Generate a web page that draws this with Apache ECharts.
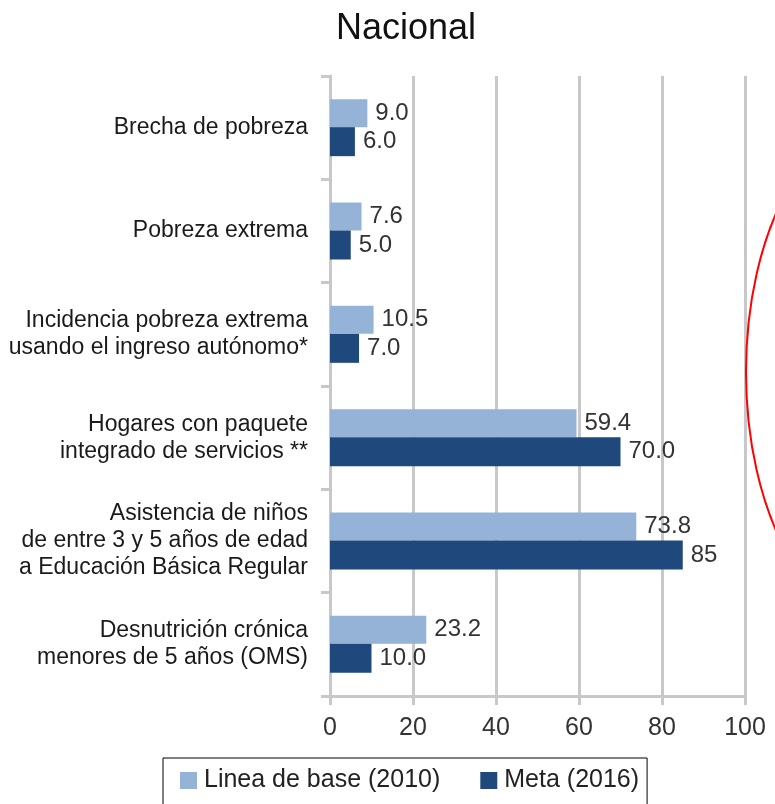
<!DOCTYPE html>
<html>
<head>
<meta charset="utf-8">
<script src="https://cdn.jsdelivr.net/npm/echarts@6/dist/echarts.min.js"></script>
<style>
  html, body { margin: 0; padding: 0; background: #fff; }
  #main { width: 775px; height: 804px; }
</style>
</head>
<body>
<div id="main"></div>
<script>
const categories = [
  "Brecha de pobreza",
  "Pobreza extrema",
  "Incidencia pobreza extrema\nusando el ingreso autónomo*",
  "Hogares con paquete\nintegrado de servicios **",
  "Asistencia de niños\nde entre 3 y 5 años de edad\na Educación Básica Regular",
  "Desnutrición crónica\nmenores de 5 años (OMS)"
];
const baseValues = [9.0, 7.6, 10.5, 59.4, 73.8, 23.2];
const baseLabels = ["9.0", "7.6", "10.5", "59.4", "73.8", "23.2"];
const metaValues = [6.0, 5.0, 7.0, 70.0, 85, 10.0];
const metaLabels = ["6.0", "5.0", "7.0", "70.0", "85", "10.0"];
const xTicks = [0, 20, 40, 60, 80, 100];

const font = "'Liberation Sans', Arial, sans-serif";
const gridGray = "#c8c8c8";

const myChart = echarts.init(document.getElementById("main"));

const option = {
  backgroundColor: "#fff",
  textStyle: { fontFamily: font },
  title: {
    text: "Nacional",
    left: 331,
    top: 6,
    textStyle: { fontSize: 36, fontWeight: "normal", color: "#111", fontFamily: font }
  },
  legend: {
    top: 758,
    left: 163,
    icon: "rect",
    itemWidth: 17,
    itemHeight: 17,
    itemGap: 40,
    borderColor: "#000",
    borderWidth: 1,
    borderRadius: 0,
    padding: [10, 8, 30, 17],
    textStyle: { fontSize: 25, color: "#222", fontFamily: font, padding: [0, 0, 0, 2] },
    data: ["Linea de base (2010)", "Meta (2016)"]
  },
  grid: {
    left: 330,
    right: 30,
    top: 76,
    bottom: 108
  },
  xAxis: {
    type: "value",
    min: xTicks[0],
    max: xTicks[xTicks.length - 1],
    interval: 20,
    axisLine: { show: true, lineStyle: { color: gridGray, width: 3 } },
    axisTick: { show: true, length: 9, lineStyle: { color: gridGray, width: 3 } },
    axisLabel: { fontSize: 25, color: "#333", margin: 20, fontFamily: font },
    splitLine: { show: true, lineStyle: { color: gridGray, width: 3 } }
  },
  yAxis: {
    type: "category",
    inverse: true,
    data: categories,
    axisLine: { show: true, lineStyle: { color: gridGray, width: 3 } },
    axisTick: { show: true, length: 9, lineStyle: { color: gridGray, width: 3 } },
    axisLabel: {
      fontSize: 23,
      color: "#1a1a1a",
      margin: 22,
      lineHeight: 27,
      align: "right",
      fontFamily: font
    }
  },
  series: [
    {
      name: "Linea de base (2010)",
      type: "bar",
      data: baseValues,
      barWidth: 28,
      barGap: "0%",
      itemStyle: { color: "#95b3d7" },
      label: {
        show: true,
        position: "right",
        distance: 8,
        fontSize: 24,
        color: "#333",
        fontFamily: font,
        formatter: (p) => baseLabels[p.dataIndex]
      }
    },
    {
      name: "Meta (2016)",
      type: "bar",
      data: metaValues,
      barWidth: 29,
      itemStyle: { color: "#1f497d" },
      label: {
        show: true,
        position: "right",
        distance: 8,
        fontSize: 24,
        color: "#333",
        fontFamily: font,
        formatter: (p) => metaLabels[p.dataIndex]
      }
    }
  ],
  graphic: [
    {
      type: "ellipse",
      shape: { cx: 881, cy: 372, rx: 135, ry: 252 },
      style: { fill: "none", stroke: "#ff0000", lineWidth: 2 },
      silent: true,
      z: 100
    }
  ]
};

myChart.setOption(option);
</script>
</body>
</html>
